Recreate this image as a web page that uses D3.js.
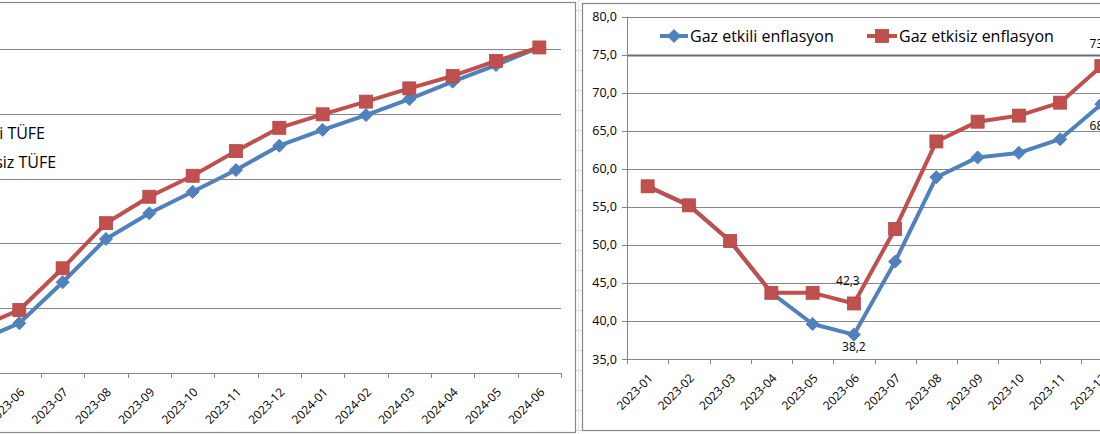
<!DOCTYPE html>
<html><head><meta charset="utf-8">
<script src="https://cdn.jsdelivr.net/npm/d3@7"></script>
<style>
body{margin:0;background:#fff;}
svg{display:block;}
text{font-family:'Open Sans','Noto Sans',sans-serif;fill:#000;}
</style>
</head><body>
<svg id="c" width="1100" height="434"></svg>
<script>
// ---------- DATA ----------
// Left chart (index levels, y-axis labels cropped in the reference)
const leftCategories = ["2023-05","2023-06","2023-07","2023-08","2023-09","2023-10","2023-11","2023-12","2024-01","2024-02","2024-03","2024-04","2024-05","2024-06"];
const leftGazEtkili  = [1120,1192,1350,1517,1616,1699,1783,1877,1938,1995,2057,2124,2188,2256];
const leftGazEtkisiz = [1172,1243,1404,1578,1680,1761,1856,1946,1998,2047,2098,2146,2204,2256];
const leftSeriesNames = ["Gaz etkili TÜFE","Gaz etkisiz TÜFE"];
const leftYTicks = [1000,1250,1500,1750,2000,2250];

// Right chart (annual inflation, %)
const rightCategories = ["2023-01","2023-02","2023-03","2023-04","2023-05","2023-06","2023-07","2023-08","2023-09","2023-10","2023-11","2023-12"];
const rightGazEtkili  = [57.7,55.2,50.5,43.7,39.6,38.2,47.8,58.9,61.5,62.1,63.9,68.5];
const rightGazEtkisiz = [57.7,55.2,50.5,43.7,43.7,42.3,52.1,63.6,66.2,67.0,68.7,73.5];
const rightSeriesNames = ["Gaz etkili enflasyon","Gaz etkisiz enflasyon"];
const rightYTicks = [35,40,45,50,55,60,65,70,75,80];
// labelled points: [series index, category]
const rightLabelled = [[1,"2023-06","above"],[0,"2023-06","below"],[1,"2023-12","above"],[0,"2023-12","below"]];

// ---------- STYLE ----------
const BLUE="#4F81BD", RED="#C0504D", GRID="#868686";
const svg=d3.select("#c");
const trFmt = d3.formatLocale({decimal:",",thousands:".",grouping:[3],currency:["","TL"]}).format(".1f");

// spreadsheet gap between the two charts
for(let y=10;y<434;y+=20){
  svg.append("line").attr("x1",576).attr("x2",582).attr("y1",y+0.5).attr("y2",y+0.5).attr("stroke","#dadcdd");
}
svg.append("line").attr("x1",578.5).attr("x2",578.5).attr("y1",0).attr("y2",434).attr("stroke","#e4e4e4");

function diamond(g,x,y,col,s){
  g.append("path").attr("d",`M${x},${y-s}L${x+s},${y}L${x},${y+s}L${x-s},${y}Z`).attr("fill",col).attr("stroke",col).attr("stroke-width",1);
}
function square(g,x,y,col,s){
  g.append("rect").attr("x",x-s).attr("y",y-s).attr("width",2*s).attr("height",2*s).attr("fill",col).attr("stroke","#B34845").attr("stroke-width",0.8);
}

function drawChart(o){
  const g=svg.append("g");
  // border
  g.append("rect").attr("x",o.box[0]+0.5).attr("y",o.box[1]+0.5).attr("width",o.box[2]-o.box[0]).attr("height",o.box[3]-o.box[1])
    .attr("fill","#fff").attr("stroke",GRID).attr("stroke-width",1.2);
  const x=d3.scaleBand().domain(o.cats).range([o.plot[0],o.plot[2]]).padding(0);
  const y=d3.scaleLinear().domain([o.yTicks[0],o.yTicks[o.yTicks.length-1]]).range([o.plot[3],o.plot[1]]);
  // gridlines
  g.selectAll(".grid").data(o.yTicks.slice(1)).join("line")
    .attr("x1",o.plot[0]).attr("x2",o.plot[2])
    .attr("y1",d=>Math.round(y(d))+0.5).attr("y2",d=>Math.round(y(d))+0.5)
    .attr("stroke",d=>d===o.darkTick?"#6d6d6d":GRID).attr("stroke-width",d=>d===o.darkTick?2:1);
  // x axis
  const xa=d3.axisBottom(x).tickSize(0).tickFormat("");
  g.append("line").attr("x1",o.plot[0]).attr("x2",o.plot[2]).attr("y1",o.plot[3]+0.5).attr("y2",o.plot[3]+0.5).attr("stroke",GRID);
  const bounds=o.cats.map(c=>x(c)).concat([x(o.cats[o.cats.length-1])+x.bandwidth()]);
  g.selectAll(".xt").data(bounds).join("line").attr("x1",d=>Math.round(d)+0.5).attr("x2",d=>Math.round(d)+0.5)
    .attr("y1",o.plot[3]).attr("y2",o.plot[3]+5).attr("stroke",GRID);
  g.selectAll(".xl").data(o.cats).join("text")
    .attr("transform",d=>`translate(${x(d)+x.bandwidth()/2+6},${o.plot[3]+20}) rotate(-45)`)
    .attr("text-anchor","end").attr("font-size",12).text(d=>d);
  // y axis
  if(o.showY){
    g.append("line").attr("x1",o.plot[0]+0.5).attr("x2",o.plot[0]+0.5).attr("y1",o.plot[1]).attr("y2",o.plot[3]).attr("stroke",GRID);
    g.selectAll(".yt").data(o.yTicks).join("line").attr("x1",o.plot[0]-5).attr("x2",o.plot[0])
      .attr("y1",d=>Math.round(y(d))+0.5).attr("y2",d=>Math.round(y(d))+0.5).attr("stroke",GRID);
    g.selectAll(".yl").data(o.yTicks).join("text").attr("x",o.plot[0]-10).attr("y",d=>y(d)+4.5)
      .attr("text-anchor","end").attr("font-size",12.5).text(d=>trFmt(d));
  }
  // series
  const cx=c=>x(c)+x.bandwidth()/2;
  const line=d3.line().x((d,i)=>cx(o.cats[i])).y(d=>y(d));
  const series=[{v:o.s0,col:BLUE,m:diamond},{v:o.s1,col:RED,m:square}];
  series.forEach(s=>{
    g.append("path").attr("d",line(s.v)).attr("fill","none").attr("stroke",s.col).attr("stroke-width",4).attr("stroke-linejoin","round");
    s.v.forEach((v,i)=>s.m(g,cx(o.cats[i]),y(v),s.col,s.m===diamond?6.5:6.5));
  });
  return {g,x,y,cx};
}

// ---------- LEFT CHART ----------
const L=drawChart({box:[-20,2,575,432],plot:[-45.7,49,561,373],cats:leftCategories,yTicks:leftYTicks,
  s0:leftGazEtkili,s1:leftGazEtkisiz,showY:false});
const lt1=L.g.append("text").attr("x",45).attr("y",139).attr("text-anchor","end").attr("font-size",16).text(leftSeriesNames[0]);
const startX=45-lt1.node().getComputedTextLength();
L.g.append("text").attr("x",startX).attr("y",168).attr("font-size",16).text(leftSeriesNames[1]);

// ---------- RIGHT CHART ----------
const R=drawChart({box:[582,3,1120,430],plot:[627,16.7,1122,359],cats:rightCategories,yTicks:rightYTicks,
  s0:rightGazEtkili,s1:rightGazEtkisiz,showY:true,darkTick:75});
// data labels
rightLabelled.forEach(([si,cat,pos])=>{
  const arr=si===0?rightGazEtkili:rightGazEtkisiz;
  const v=arr[rightCategories.indexOf(cat)];
  const px=R.cx(cat), py=R.y(v);
  R.g.append("text").attr("x",px+(cat==="2023-06"&&pos==="above"?-6:0)).attr("y",pos==="above"?py-18:py+(cat==="2023-12"?26:16))
    .attr("text-anchor","middle").attr("font-size",12).text(trFmt(v));
});
// legend
const legY=36;
[[660,688,rightSeriesNames[0],BLUE,diamond],[867,897,rightSeriesNames[1],RED,square]].forEach(([a,b,t,col,m])=>{
  R.g.append("line").attr("x1",a).attr("x2",b).attr("y1",legY).attr("y2",legY).attr("stroke",col).attr("stroke-width",4);
  m(R.g,(a+b)/2,legY,col,6.5);
  R.g.append("text").attr("x",b+2).attr("y",legY+6).attr("font-size",16).text(t);
});
</script>
</body></html>
